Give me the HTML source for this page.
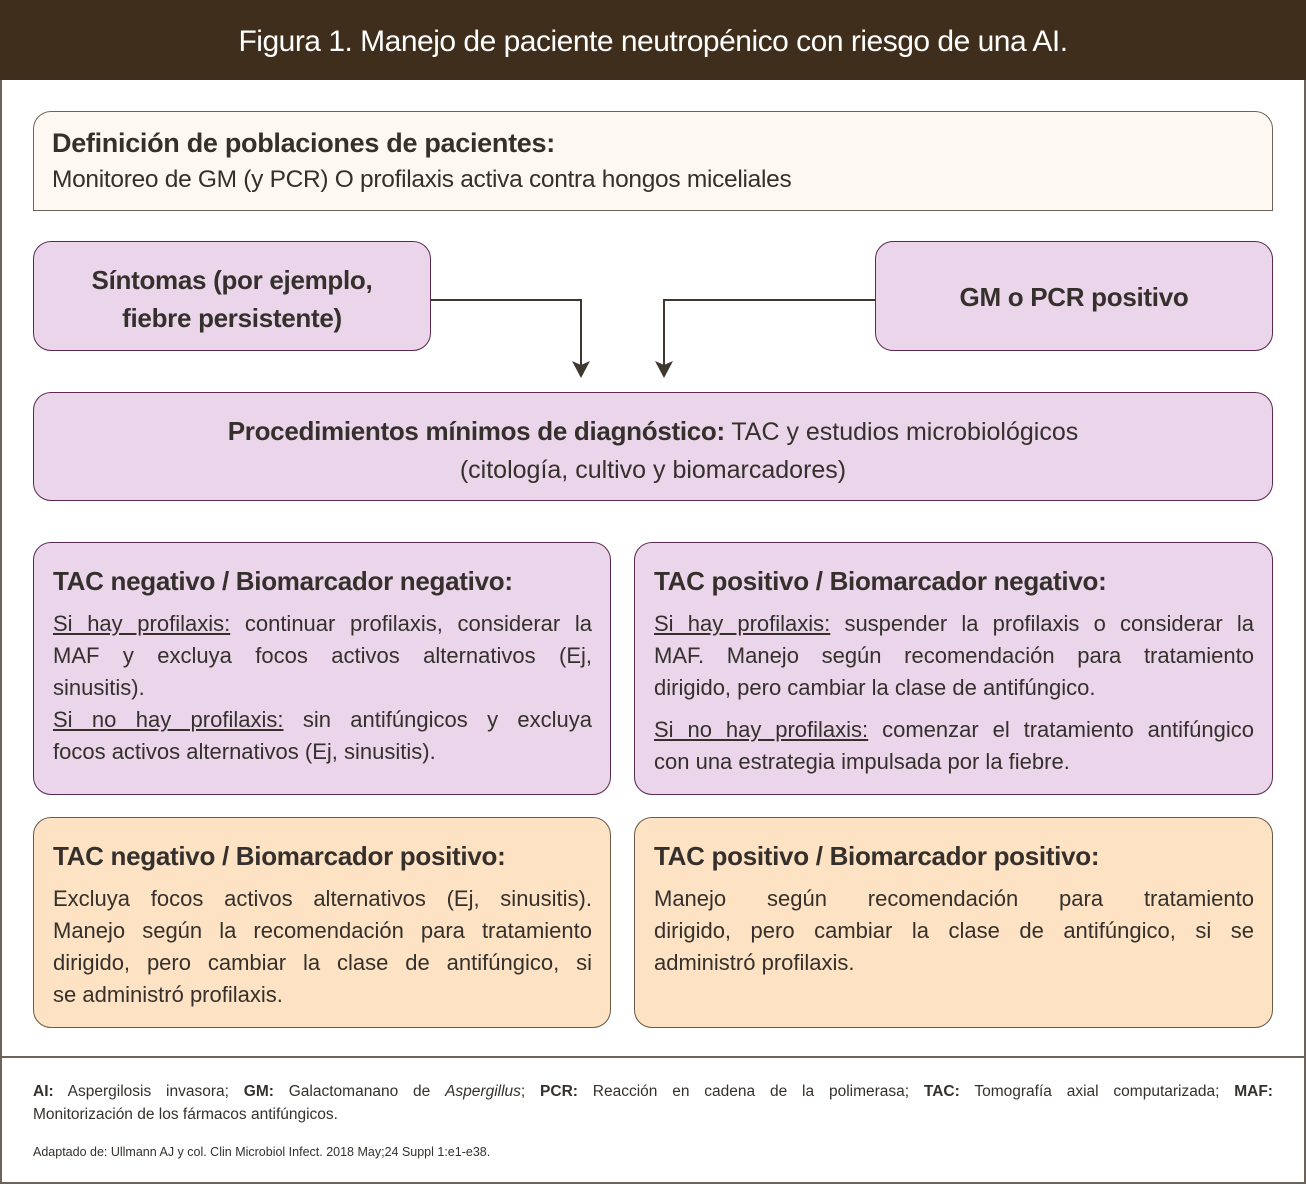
<!DOCTYPE html>
<html><head><meta charset="utf-8"><style>
*{margin:0;padding:0;box-sizing:border-box}
body{width:1306px;height:1184px;background:#fff;position:relative;font-family:"Liberation Sans",sans-serif;color:#35302c;overflow:hidden}
.a{position:absolute}
.frame{left:0;top:0;width:1306px;height:1184px;border:2px solid #6b6259}
.hdr{left:0;top:0;width:1306px;height:80px;background:#3f2e1b;color:#fff;font-size:30px;text-align:center;line-height:84px;letter-spacing:-0.5px}
.box{position:absolute;border:1.5px solid #5a2a50;border-radius:18px;background:#ead5ea}
.pe{background:#fde2c4;border-color:#6b5a45}
.h{font-weight:bold;font-size:26px;letter-spacing:-0.3px}
.l{font-size:22px;line-height:32px;text-align:justify;text-align-last:justify;white-space:nowrap}
.l.e{text-align-last:left}
u{text-decoration:underline}
</style></head><body>
<div class="a frame"></div>
<div class="a hdr">Figura 1. Manejo de paciente neutropénico con riesgo de una AI.</div>

<div class="a" style="left:33px;top:111px;width:1240px;height:100px;background:#fdf8f2;border:1.5px solid #6b6259;border-radius:18px 18px 0 0;padding:16px 18px">
<div class="h" style="font-size:27px">Definición de poblaciones de pacientes:</div>
<div style="font-size:24.5px;margin-top:7px;letter-spacing:-0.3px">Monitoreo de GM (y PCR) O profilaxis activa contra hongos miceliales</div>
</div>

<div class="box" style="left:33px;top:241px;width:398px;height:110px;text-align:center;padding-top:19px">
<div class="h" style="font-size:26px;line-height:38px">Síntomas (por ejemplo,<br>fiebre persistente)</div></div>
<div class="box" style="left:875px;top:241px;width:398px;height:110px;text-align:center;padding-top:40px">
<div class="h" style="font-size:26px">GM o PCR positivo</div></div>

<svg class="a" style="left:0;top:0" width="1306" height="400">
<path d="M431 300H581V368M875 300H664V368" fill="none" stroke="#3f3830" stroke-width="2"/>
<path d="M572 361L581 378L590 361L581 365Z M655 361L664 378L673 361L664 365Z" fill="#3f3830"/>
</svg>

<div class="box" style="left:33px;top:392px;width:1240px;height:109px;text-align:center;padding-top:19px;font-size:25px;line-height:38px">
<span class="h">Procedimientos mínimos de diagnóstico:</span> TAC y estudios microbiológicos<br>(citología, cultivo y biomarcadores)</div>

<div class="box" style="left:33px;top:542px;width:578px;height:253px;padding:23px 18px 0 19px">
<div class="h" style="margin-bottom:11px">TAC negativo / Biomarcador negativo:</div>
<div class="l"><u>Si hay profilaxis:</u> continuar profilaxis, considerar la</div>
<div class="l">MAF y excluya focos activos alternativos (Ej,</div>
<div class="l e">sinusitis).</div>
<div class="l"><u>Si no hay profilaxis:</u> sin antifúngicos y excluya</div>
<div class="l e">focos activos alternativos (Ej, sinusitis).</div>
</div>

<div class="box" style="left:634px;top:542px;width:639px;height:253px;padding:23px 18px 0 19px">
<div class="h" style="margin-bottom:11px">TAC positivo / Biomarcador negativo:</div>
<div class="l"><u>Si hay profilaxis:</u> suspender la profilaxis o considerar la</div>
<div class="l">MAF. Manejo según recomendación para tratamiento</div>
<div class="l e">dirigido, pero cambiar la clase de antifúngico.</div>
<div class="l" style="margin-top:10px"><u>Si no hay profilaxis:</u> comenzar el tratamiento antifúngico</div>
<div class="l e">con una estrategia impulsada por la fiebre.</div>
</div>

<div class="box pe" style="left:33px;top:817px;width:578px;height:211px;padding:23px 18px 0 19px">
<div class="h" style="margin-bottom:11px">TAC negativo / Biomarcador positivo:</div>
<div class="l">Excluya focos activos alternativos (Ej, sinusitis).</div>
<div class="l">Manejo según la recomendación para tratamiento</div>
<div class="l">dirigido, pero cambiar la clase de antifúngico, si</div>
<div class="l e">se administró profilaxis.</div>
</div>

<div class="box pe" style="left:634px;top:817px;width:639px;height:211px;padding:23px 18px 0 19px">
<div class="h" style="margin-bottom:11px">TAC positivo / Biomarcador positivo:</div>
<div class="l">Manejo según recomendación para tratamiento</div>
<div class="l">dirigido, pero cambiar la clase de antifúngico, si se</div>
<div class="l e">administró profilaxis.</div>
</div>

<div class="a" style="left:0;top:1056px;width:1306px;height:2px;background:#6b6259"></div>
<div class="a" style="left:33px;top:1080px;width:1240px;font-size:15.5px;line-height:23px">
<div class="l" style="font-size:15.5px;line-height:23px"><b>AI:</b> Aspergilosis invasora; <b>GM:</b> Galactomanano de <i>Aspergillus</i>; <b>PCR:</b> Reacción en cadena de la polimerasa; <b>TAC:</b> Tomografía axial computarizada; <b>MAF:</b></div>
<div>Monitorización de los fármacos antifúngicos.</div>
</div>
<div class="a" style="left:33px;top:1145px;font-size:12.5px">Adaptado de: Ullmann AJ y col. Clin Microbiol Infect. 2018 May;24 Suppl 1:e1-e38.</div>
</body></html>
